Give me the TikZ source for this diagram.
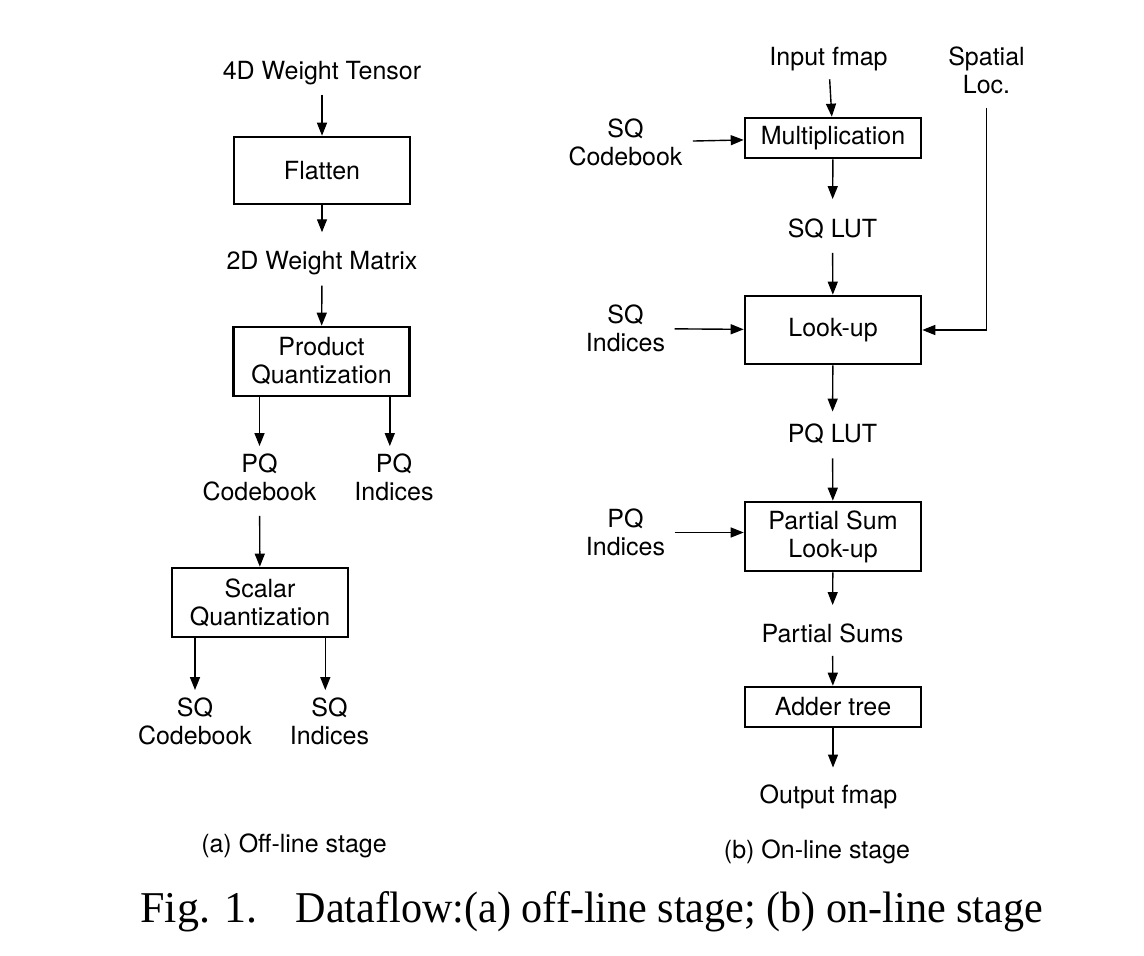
\documentclass[tikz,border=0pt]{standalone}
\usepackage{fontspec}
\setmainfont{Liberation Serif}
\setsansfont{TeX Gyre Heros}
\usepackage{graphicx}
\usepackage{tikz}
\usetikzlibrary{
	positioning,
	arrows.meta
}

\tikzset{
	txt/.style={font=\sffamily\fontsize{12.5}{14}\selectfont},
	lbl/.style={txt,inner sep=0pt,align=center},
	block/.style={txt,draw,line width=1.3pt,inner sep=0pt,align=center,minimum width=88pt},
	flow/.style={line width=0.7pt,-{Triangle[length=6.5pt,width=5pt]}}
}

\begin{document}
\begin{tikzpicture}[x=0.5pt,y=-0.5pt]
		\useasboundingbox (0,0) rectangle (1144,956);
		% (a) off-line stage
		\draw
			node[lbl] (w4)  at (322,73.5)  {4D Weight Tensor}
			node[block,minimum height=33.5pt] (flat) at (322,170.5) {Flatten}
			node[lbl] (w2)  at (322,263.5) {2D Weight Matrix}
			node[block,minimum height=34.5pt] (pq) at (321.5,361.5) {Product\\Quantization}
			node[lbl] (pqc) at (259.5,477) {PQ\\Codebook}
			node[lbl] (pqi) at (394,477)   {PQ\\Indices}
			node[block,minimum height=34.5pt] (sq) at (260,602.5) {Scalar\\Quantization}
			node[lbl] (sqc) at (195,721)   {SQ\\Codebook}
			node[lbl] (sqi) at (329.5,721) {SQ\\Indices}
			node[lbl] (capa) at (294,846)  {(a) Off-line stage}
		;
		\coordinate (pqR) at ([xshift=-10.5pt]pq.south east);
		\coordinate (sqR) at ([xshift=-12pt]sq.south east);
		\draw
			(w4)  edge[flow,shorten <=4.5pt] (flat)
			(flat) edge[flow,shorten >=9.5pt] (w2)
			(w2)  edge[flow,shorten <=5pt] (pq)
			(pq.south -| pqc) edge[flow,shorten >=3.5pt] (pqc)
			(pqR) edge[flow,shorten >=3.5pt] (pqR |- pqi.north)
			(pqc) edge[flow,shorten <=7.5pt] (sq)
			(sq.south -| sqc) edge[flow,shorten >=3.5pt] (sqc)
			(sqR) edge[flow,shorten >=3.5pt] (sqR |- sqi.north)
		;
		% (b) on-line stage
		\draw
			node[lbl] (inp)  at (828.5,59)  {Input fmap}
			node[lbl] (sp)   at (986.5,70)  {Spatial\\Loc.}
			node[lbl] (sqcb) at (625.5,142.5) {SQ\\Codebook}
			node[block,minimum height=20pt] (mult) at (833,138) {Multiplication}
			node[lbl] (sqlut) at (832.5,228.5) {SQ LUT}
			node[lbl] (sqix) at (625.5,328.5) {SQ\\Indices}
			node[block,minimum height=34pt] (look) at (833,330) {Look-up}
			node[lbl] (pqlut) at (832.5,434) {PQ LUT}
			node[lbl] (pqix) at (625.5,532.5) {PQ\\Indices}
			node[block,minimum height=34.5pt] (psl) at (833,536.5) {Partial Sum\\Look-up}
			node[lbl] (sums) at (832.5,633) {Partial Sums}
			node[block,minimum height=20pt] (add) at (833,707) {Adder tree}
			node[lbl] (out)  at (828.5,797) {Output fmap}
			node[lbl] (capb) at (817,852)  {(b) On-line stage}
		;
		\draw
			(inp)   edge[flow,shorten <=4pt] (mult)
			(sqcb)  edge[flow,shorten <=5pt] (mult)
			(mult)  edge[flow,shorten >=9.5pt] (sqlut)
			(sqlut) edge[flow,shorten <=7pt] (look)
			(sqix)  edge[flow,shorten <=4.5pt] (look)
			(look)  edge[flow,shorten >=6pt] (pqlut)
			(pqlut) edge[flow,shorten <=7pt] (psl)
			(pqix.east) edge[flow,shorten <=4.5pt] (pqix.east -| psl.west)
			(psl)   edge[flow,shorten >=9pt] (sums)
			(sums)  edge[flow,shorten <=6.5pt] (add)
			(add)   edge[flow,shorten >=8.5pt] (add.south |- out.north)
		;
		\draw[flow,shorten <=7pt] (sp) |- (look);
		% caption
		\node[anchor=base west,inner sep=0pt,font=\fontsize{22}{26}\selectfont] (cap) at (140,922)
			{Fig. 1.\hspace{19pt}\scalebox{0.958}[1]{Dataflow:(a) off-line stage; (b) on-line stage}};
    \end{tikzpicture}
\end{document}
